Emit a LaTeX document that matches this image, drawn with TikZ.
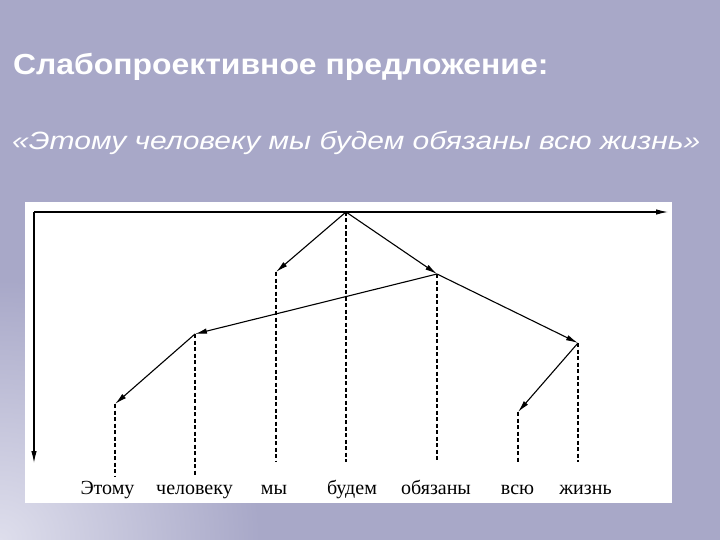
\documentclass[tikz,border=0pt]{standalone}
\usepackage{fontspec}
\setmainfont{Liberation Serif}
\newfontfamily\hdfont{Liberation Sans}
\usetikzlibrary{arrows.meta}
\definecolor{bgc}{RGB}{168,168,200}
\definecolor{bglight}{RGB}{222,222,236}
\tikzset{
  arr/.style={line width=1.1pt, -{Latex[length=12pt,width=5.5pt]}},
  depline/.style={line width=1.3pt, dash pattern=on 4pt off 2.5pt},
  word/.style={anchor=base, inner sep=0pt, font=\fontsize{20}{23}\selectfont},
}
\begin{document}
\begin{tikzpicture}[x=1pt,y=-1pt]
\useasboundingbox (0,0) rectangle (720,540);
\fill[bgc] (0,0) rectangle (720,540);
\begin{scope}
\clip (0,0) rectangle (720,540);
\shade[inner color=bglight, outer color=bgc] (0,540) circle (260);
\end{scope}
% titles
\node[anchor=base west, inner sep=0pt, text=white, font=\hdfont\bfseries\fontsize{29}{34}\selectfont] (title) at (13,75) {\scalebox{1.10}[1]{Слабопроективное предложение:}};
\node[anchor=base west, inner sep=0pt, text=white, font=\hdfont\itshape\fontsize{25}{30}\selectfont] (sub) at (12,150) {\scalebox{1.20}[1]{«Этому человеку мы будем обязаны всю жизнь»}};
% white panel
\fill[white] (25,202) rectangle (672,503);
% axes
\coordinate (o) at (34,212);
\coordinate (xend) at (668,212);
\coordinate (yend) at (34,463);
\draw[arr] (o) -- (xend);
\draw[arr] (o) -- (yend);
% tree points
\coordinate (bud) at (346,212);
\coordinate (my) at (276,272);
\coordinate (obz) at (437,274);
\coordinate (chel) at (195,334);
\coordinate (zhizn) at (578,343);
\coordinate (etomu) at (115,404);
\coordinate (vsyu) at (518,412);
% bottoms of projection lines
\coordinate (etomuB) at (115,476);
\coordinate (chelB) at (195,476);
\coordinate (myB) at (276,462);
\coordinate (budB) at (346,462);
\coordinate (obzB) at (437,462);
\coordinate (vsyuB) at (518,462);
\coordinate (zhiznB) at (578,462);
\draw[depline] (etomu) -- (etomuB);
\draw[depline] (chel) -- (chelB);
\draw[depline] (my) -- (myB);
\draw[depline] (bud) -- (budB);
\draw[depline] (obz) -- (obzB);
\draw[depline] (vsyu) -- (vsyuB);
\draw[depline] (zhizn) -- (zhiznB);
% dependencies
\draw[arr] (bud) -- (my);
\draw[arr] (bud) -- (obz);
\draw[arr] (obz) -- (chel);
\draw[arr] (obz) -- (zhizn);
\draw[arr] (chel) -- (etomu);
\draw[arr] (zhizn) -- (vsyu);
% words
\node[word] (w1) at (107.5,494) {Этому};
\node[word] (w2) at (194.5,494) {человеку};
\node[word] (w3) at (274,494) {мы};
\node[word] (w4) at (352,494) {будем};
\node[word] (w5) at (436,494) {обязаны};
\node[word] (w6) at (517.5,494) {всю};
\node[word] (w7) at (585.5,494) {жизнь};
\end{tikzpicture}
\end{document}
